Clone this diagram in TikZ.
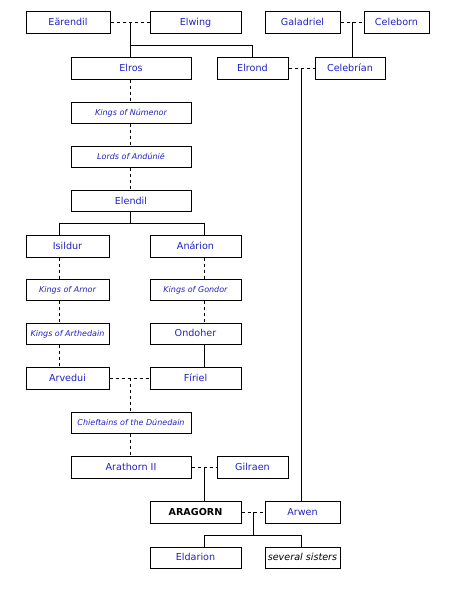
\documentclass[tikz,border=0pt]{standalone}
\usepackage{fontspec}
\setmainfont{DejaVu Sans}
\definecolor{nm}{RGB}{32,32,196}
\tikzset{
  person/.style={draw=black, line width=1pt, inner sep=0pt, minimum height=22pt, text height=7pt, text depth=0.5pt, text=nm, font=\fontsize{9.6}{11}\selectfont},
  lineage/.style={person, text height=5.8pt, text depth=0.3pt, font=\fontsize{8}{9}\selectfont\itshape},
  solidline/.style={line width=1pt},
  dline/.style={line width=1pt, dash pattern=on 3pt off 3pt}
}
\begin{document}
\begin{tikzpicture}[x=1pt,y=-1pt]
\path[use as bounding box] (0,0) rectangle (452,590);
% nodes
\node[person, minimum width=84pt] (earendil) at (68,22) {Eärendil};
\node[person, minimum width=91pt] (elwing) at (195.5,22) {Elwing};
\node[person, minimum width=75pt] (galadriel) at (302.5,22) {Galadriel};
\node[person, minimum width=65pt] (celeborn) at (396.5,22) {Celeborn};
\node[person, minimum width=120pt] (elros) at (131,68) {Elros};
\node[person, minimum width=71pt] (elrond) at (252.5,68) {Elrond};
\node[person, minimum width=70pt] (celebrian) at (350,68) {Celebrían};
\node[lineage, minimum width=120pt, minimum height=21pt] (numenor) at (131,112.5) {Kings of Númenor};
\node[lineage, minimum width=120pt, minimum height=21pt] (andunie) at (131,157) {Lords of Andúnië};
\node[person, minimum width=120pt, minimum height=21pt] (elendil) at (131,201) {Elendil};
\node[person, minimum width=83pt] (isildur) at (67.5,246) {Isildur};
\node[person, minimum width=91pt] (anarion) at (195.5,246) {Anárion};
\node[lineage, minimum width=83pt, minimum height=21pt] (arnor) at (67.5,289.5) {Kings of Arnor};
\node[lineage, minimum width=91pt, minimum height=21pt] (gondor) at (195.5,289.5) {Kings of Gondor};
\node[lineage, minimum width=83pt, minimum height=21pt] (arthedain) at (67.5,333.5) {Kings of Arthedain};
\node[person, minimum width=91pt, minimum height=21pt] (ondoher) at (195.5,333.5) {Ondoher};
\node[person, minimum width=83pt] (arvedui) at (67.5,378) {Arvedui};
\node[person, minimum width=91pt] (firiel) at (195.5,378) {Fíriel};
\node[lineage, minimum width=120pt, minimum height=21pt] (chieftains) at (131,422.5) {Chieftains of the Dúnedain};
\node[person, minimum width=120pt] (arathorn) at (131,467) {Arathorn II};
\node[person, minimum width=71pt] (gilraen) at (252.5,467) {Gilraen};
\node[person, minimum width=91pt, text=black, font=\fontsize{9.6}{11}\selectfont\bfseries] (aragorn) at (195.5,512) {ARAGORN};
\node[person, minimum width=75pt] (arwen) at (302.5,512) {Arwen};
\node[person, minimum width=91pt, minimum height=21pt] (eldarion) at (195.5,557.5) {Eldarion};
\node[person, minimum width=75pt, minimum height=21pt, text=black, font=\fontsize{9.6}{11}\selectfont\itshape] (sisters) at (302.5,557.5) {several sisters};
% junction coordinates
\coordinate (j1) at (130,22);
\coordinate (j1b) at (130,45);
\coordinate (j2) at (352,22);
\coordinate (j3) at (301,68);
\coordinate (eL) at (59,223);
\coordinate (eC) at (130,223);
\coordinate (eR) at (204,223);
\coordinate (j4) at (130,378);
\coordinate (j5) at (204,467);
\coordinate (j6) at (253,512);
\coordinate (kC) at (253,535);
\coordinate (kL) at (204,535);
\coordinate (kR) at (301,535);
% connectors
\draw[dline] (earendil) -- (elwing);
\draw[solidline] (j1) -- (j1 |- elros.north);
\draw[solidline] (j1b) -| (elrond.north);
\draw[dline] (galadriel) -- (celeborn);
\draw[solidline] (j2) -- (j2 |- celebrian.north);
\draw[dline] (elrond) -- (celebrian);
\draw[solidline] (j3) -- (j3 |- arwen.north);
\draw[dline] (elros.south -| j1) -- (numenor.north -| j1);
\draw[dline] (numenor.south -| j1) -- (andunie.north -| j1);
\draw[dline] (andunie.south -| j1) -- (elendil.north -| j1);
\draw[solidline] (elendil.south -| eC) -- (eC);
\draw[solidline] (eL |- isildur.north) -- (eL) -- (eR) -- (eR |- anarion.north);
\draw[dline] (isildur.south -| eL) -- (arnor.north -| eL);
\draw[dline] (arnor.south -| eL) -- (arthedain.north -| eL);
\draw[dline] (arthedain.south -| eL) -- (arvedui.north -| eL);
\draw[dline] (anarion.south -| eR) -- (gondor.north -| eR);
\draw[dline] (gondor.south -| eR) -- (ondoher.north -| eR);
\draw[solidline] (ondoher.south -| eR) -- (firiel.north -| eR);
\draw[dline] (arvedui) -- (firiel);
\draw[dline] (j4) -- (j4 |- chieftains.north);
\draw[dline] (chieftains.south -| j4) -- (arathorn.north -| j4);
\draw[dline] (arathorn) -- (gilraen);
\draw[solidline] (j5) -- (j5 |- aragorn.north);
\draw[dline] (aragorn) -- (arwen);
\draw[solidline] (j6) -- (kC);
\draw[solidline] (kL |- eldarion.north) -- (kL) -- (kR) -- (kR |- sisters.north);
\end{tikzpicture}
\end{document}
